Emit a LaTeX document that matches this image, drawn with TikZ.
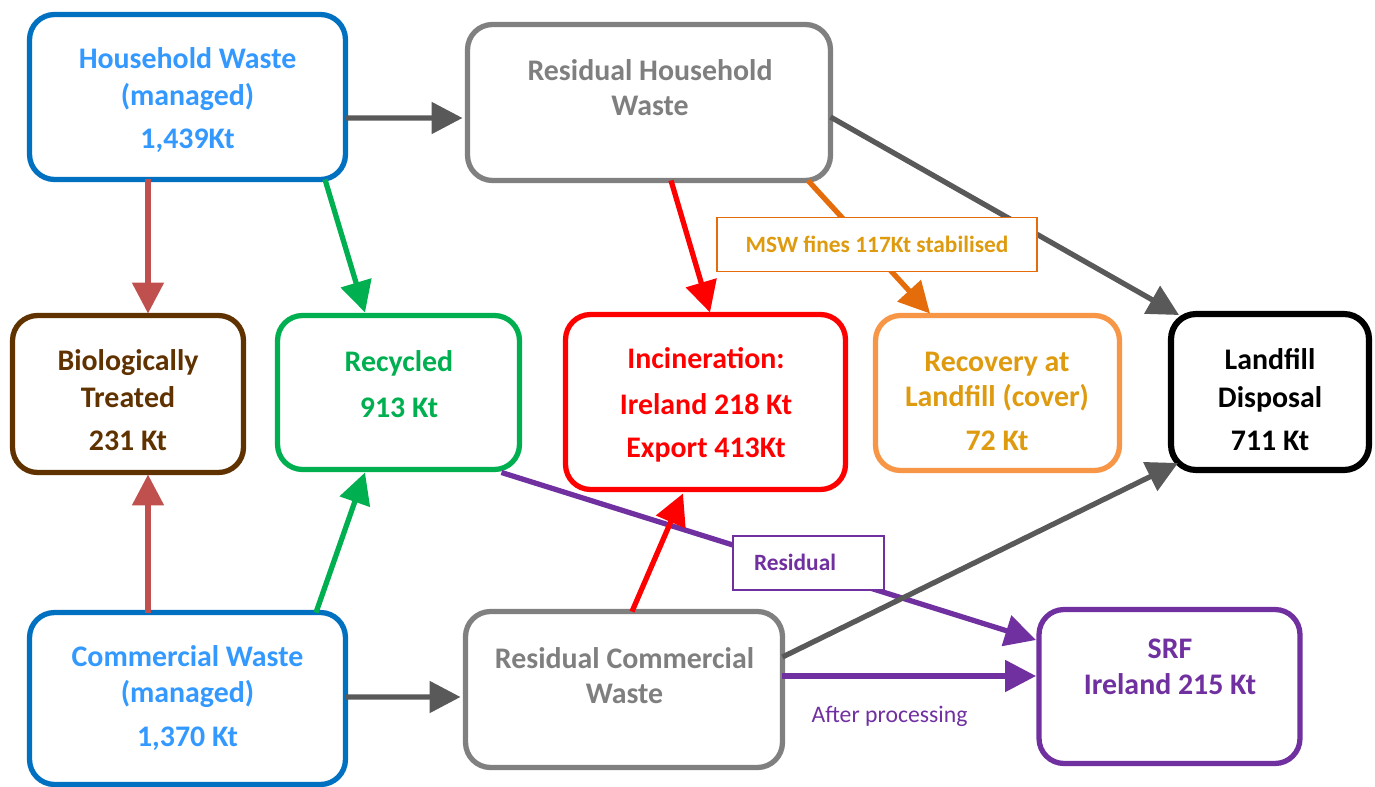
\documentclass[tikz,border=0pt]{standalone}
\usepackage{fontspec}
\setmainfont{Carlito}
\usetikzlibrary{arrows.meta,calc}
\definecolor{hwblue}{HTML}{0070C0}
\definecolor{txtblue}{HTML}{3399FF}
\definecolor{boxgray}{HTML}{808080}
\definecolor{txtgray}{HTML}{7F7F7F}
\definecolor{mybrown}{HTML}{5F3200}
\definecolor{mygreen}{HTML}{00B050}
\definecolor{myred}{HTML}{FF0000}
\definecolor{orbox}{HTML}{F79646}
\definecolor{ortxt}{HTML}{DF9B0F}
\definecolor{orarrow}{HTML}{E46C0A}
\definecolor{mypurple}{HTML}{7030A0}
\definecolor{arrgray}{HTML}{595959}
\definecolor{bioarrow}{HTML}{C0504D}
\begin{document}
\begin{tikzpicture}[x=0.02cm,y=-0.02cm,
  box/.style={draw, rounded corners=0.5cm, line width=3pt, fill=white, inner sep=0pt, outer sep=0pt},
  txt/.style={align=center, font=\bfseries\fontsize{17}{21}\selectfont, inner sep=0pt},
  arr/.style={line width=3pt, -{Triangle[length=0.62cm,width=0.62cm]}},
  lbl/.style={draw, line width=1.1pt, fill=white, inner sep=0pt, outer sep=0pt, minimum height=1.08cm, font=\bfseries\fontsize{13.3}{16}\selectfont}
]
\useasboundingbox (0,0) rectangle (1375,787);

% boxes
\node[box, draw=hwblue, minimum width=6.32cm, minimum height=3.30cm] (hw) at (187.5,97) {};
\node[box, draw=boxgray, minimum width=7.26cm, minimum height=3.12cm] (rhw) at (649,102.5) {};
\node[box, draw=mybrown, minimum width=4.62cm, minimum height=3.14cm] (bio) at (128,394) {};
\node[box, draw=mygreen, minimum width=4.84cm, minimum height=3.08cm] (rec) at (398.5,392.5) {};
\node[box, draw=myred, minimum width=5.60cm, minimum height=3.50cm] (inc) at (705.5,402) {};
\node[box, draw=orbox, minimum width=4.88cm, minimum height=3.10cm] (recov) at (997.5,393) {};
\node[box, draw=black, line width=3.5pt, minimum width=3.96cm, minimum height=3.12cm] (land) at (1270,392) {};
\node[box, draw=hwblue, minimum width=6.32cm, minimum height=3.44cm] (cw) at (187.5,698.5) {};
\node[box, draw=boxgray, minimum width=6.34cm, minimum height=3.12cm] (rcw) at (624,689.5) {};
\node[box, draw=mypurple, minimum width=5.22cm, minimum height=3.08cm] (srf) at (1169.5,686.5) {};

% texts
\node[txt, text=txtblue] (hwT) at (187.5,100) {Household Waste\\(managed)\\[3.4pt]1,439Kt};
\node[txt, text=txtgray] (rhwT) at (650,87.5) {Residual Household\\[-1pt]Waste};
\node[txt, text=mybrown] (bioT) at (128,400) {Biologically\\Treated\\[3.4pt]231 Kt};
\node[txt, text=mygreen] (recT) at (399,384) {Recycled\\[5pt]913 Kt};
\node[txt, text=myred] (incT) at (706,405) {Incineration:\\[5pt]Ireland 218 Kt\\[4pt]Export 413Kt};
\node[txt, text=ortxt] (recovT) at (997,401.5) {Recovery at\\[-1pt]Landfill (cover)\\[4pt]72 Kt};
\node[txt, text=black] (landT) at (1270,399.5) {Landfill\\[0.5pt]Disposal\\[3.4pt]711 Kt};
\node[txt, text=txtblue] (cwT) at (187.5,698) {Commercial Waste\\[-0.5pt](managed)\\[4pt]1,370 Kt};
\node[txt, text=txtgray] (rcwT) at (624.5,675.5) {Residual Commercial\\[-1pt]Waste};
\node[txt, text=mypurple] (srfT) at (1170,667) {SRF\\[-0.5pt]Ireland 215 Kt};

% connectors
\draw[arr, mypurple] ($(rec.south east)+(-18,3)$) -- ($(srf.west)+(-3,-46.5)$);
\draw[arr, mypurple] ($(rcw.east)+(0,-13.5)$) -- ($(srf.west)+(-3,-10.5)$);
\draw[arr, arrgray] ($(hw.east)+(0,21)$) -- ($(rhw.west)+(-5,15.5)$);
\draw[arr, bioarrow] ($(hw.south)+(-39.5,0)$) -- ($(bio.north)+(20,-2)$);
\draw[arr, mygreen] ($(hw.south)+(137.5,0)$) -- ($(rec.north)+(-33.5,-3)$);
\draw[arr, bioarrow] ($(cw.north)+(-39.5,0)$) -- ($(bio.south)+(20,2)$);
\draw[arr, mygreen] ($(cw.north)+(128.5,0)$) -- ($(rec.south)+(-33.5,3)$);
\draw[arr, arrgray] ($(cw.east)+(0,-1.5)$) -- ($(rcw.west)+(-5,7.5)$);
\draw[arr, myred] ($(rhw.south)+(22,0)$) -- ($(inc.north)+(4.5,-2)$);
\draw[arr, orarrow] ($(rhw.south)+(159,0)$) -- ($(recov.north)+(-67.5,-2)$);
\draw[arr, arrgray] ($(rhw.east)+(0,14.5)$) -- ($(land.north west)+(8,1)$);
\draw[arr, myred] ($(rcw.north)+(8,0)$) -- ($(inc.south)+(-22.5,4)$);
\draw[arr, arrgray] ($(rcw.east)+(0,-32.5)$) -- ($(land.south west)+(7,-7)$);

% labels
\node[lbl, draw=orarrow, text=ortxt, minimum width=6.40cm] (msw) at (877,244.5) {MSW fines 117Kt stabilised};
\node[lbl, draw=mypurple, minimum width=3.02cm] (resid) at (808.5,563) {};
\node[inner sep=0pt, text=mypurple, font=\bfseries\fontsize{13.3}{16}\selectfont] (residT) at (795,562) {Residual};
\node[inner sep=0pt, text=mypurple, font=\fontsize{13.5}{16}\selectfont] (after) at (889.5,716) {After processing};
\end{tikzpicture}
\end{document}
